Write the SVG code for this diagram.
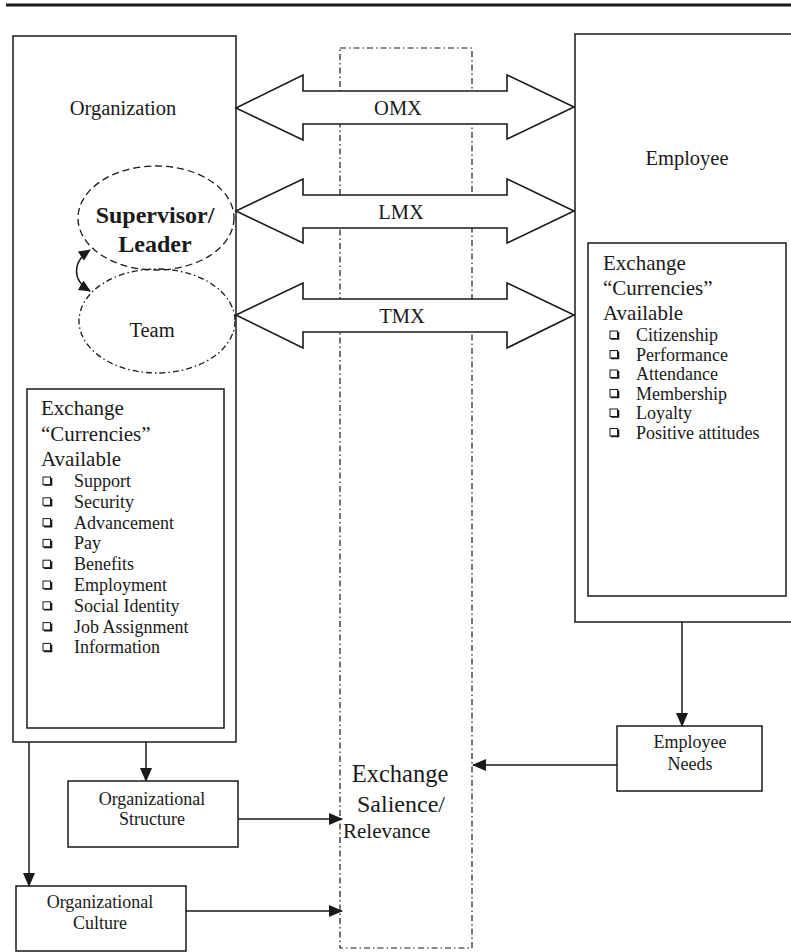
<svg xmlns="http://www.w3.org/2000/svg" width="791" height="952" viewBox="0 0 791 952">
<style>
text{font-family:"Liberation Serif","Times New Roman",serif;fill:#1a1a1a}
.box{fill:none;stroke:#1a1a1a;stroke-width:1.5}
.conn{fill:none;stroke:#1a1a1a;stroke-width:1.5}
.dbl{fill:#fff;stroke:#1a1a1a;stroke-width:1.6;stroke-linejoin:miter}
.h{font-size:21px}
.it{font-size:18px}
.sm{font-size:18px}
.sal{font-family:"Liberation Serif","Times New Roman",serif}
</style>
<defs>
<marker id="ah" viewBox="0 0 14 14" refX="13" refY="7" markerWidth="14" markerHeight="14" markerUnits="userSpaceOnUse" orient="auto"><path d="M0,1 L14,7 L0,13 z" fill="#1a1a1a"/></marker>
<marker id="ahs" viewBox="0 0 12 12" refX="11" refY="6" markerWidth="12" markerHeight="12" markerUnits="userSpaceOnUse" orient="auto-start-reverse"><path d="M0,0.5 L12,6 L0,11.5 z" fill="#1a1a1a"/></marker>
<g id="cb"><rect x="0" y="-10" width="7.5" height="7.5" fill="#fff" stroke="#1a1a1a" stroke-width="1"/><path d="M1,-2 H8.5 V-9" fill="none" stroke="#1a1a1a" stroke-width="1.6"/></g>
</defs>
<line x1="6" y1="5" x2="791" y2="5" stroke="#1a1a1a" stroke-width="3"/>

<g id="exchange-salience">
<rect x="340" y="48" width="132" height="900" fill="none" stroke="#1a1a1a" stroke-width="1.2" stroke-dasharray="6 3 1.5 3"/>
<text class="sal" x="400" y="782" text-anchor="middle" font-family="Liberation Serif, Times New Roman, serif" font-size="24.5">Exchange</text>
<text class="sal" x="401" y="812" text-anchor="middle" font-family="Liberation Serif, Times New Roman, serif" font-size="24">Salience/</text>
<text class="sal" x="343" y="838" font-family="Liberation Serif, Times New Roman, serif" font-size="21">Relevance</text>
</g>

<g id="organization">
<rect class="box" x="13" y="36" width="223" height="706"/>
<text x="123" y="115" text-anchor="middle" font-size="20.5">Organization</text>
</g>

<g id="supervisor">
<ellipse cx="156" cy="218" rx="78" ry="52" fill="none" stroke="#1a1a1a" stroke-width="1.3" stroke-dasharray="7 4"/>
<text x="155" y="223" text-anchor="middle" font-size="24" font-weight="bold">Supervisor/</text>
<text x="155" y="252" text-anchor="middle" font-size="24" font-weight="bold">Leader</text>
</g>

<g id="team">
<ellipse cx="157" cy="321" rx="78" ry="52" fill="none" stroke="#1a1a1a" stroke-width="1.3" stroke-dasharray="6 3 1.5 3"/>
<text x="152" y="337" text-anchor="middle" font-size="20.5">Team</text>
</g>

<g id="org-currencies">
<rect class="box" x="27" y="389" width="197" height="339"/>
<text class="h" x="41" y="415">Exchange</text>
<text class="h" x="41" y="441">“Currencies”</text>
<text class="h" x="41" y="466">Available</text>
<use href="#cb" x="43" y="487"/><text class="it" x="74" y="487">Support</text>
<use href="#cb" x="43" y="507.8"/><text class="it" x="74" y="507.8">Security</text>
<use href="#cb" x="43" y="528.6"/><text class="it" x="74" y="528.6">Advancement</text>
<use href="#cb" x="43" y="549.4"/><text class="it" x="74" y="549.4">Pay</text>
<use href="#cb" x="43" y="570.2"/><text class="it" x="74" y="570.2">Benefits</text>
<use href="#cb" x="43" y="591"/><text class="it" x="74" y="591">Employment</text>
<use href="#cb" x="43" y="611.8"/><text class="it" x="74" y="611.8">Social Identity</text>
<use href="#cb" x="43" y="632.6"/><text class="it" x="74" y="632.6">Job Assignment</text>
<use href="#cb" x="43" y="653.4"/><text class="it" x="74" y="653.4">Information</text>
</g>

<g id="employee">
<rect class="box" x="575" y="34" width="230" height="588"/>
<text x="687" y="165" text-anchor="middle" font-size="20.5">Employee</text>
</g>

<g id="emp-currencies">
<rect class="box" x="588" y="243" width="198" height="353"/>
<text class="h" x="603" y="270">Exchange</text>
<text class="h" x="603" y="295">“Currencies”</text>
<text class="h" x="603" y="320">Available</text>
<use href="#cb" x="610" y="341"/><text class="it" x="636" y="341">Citizenship</text>
<use href="#cb" x="610" y="360.5"/><text class="it" x="636" y="360.5">Performance</text>
<use href="#cb" x="610" y="380"/><text class="it" x="636" y="380">Attendance</text>
<use href="#cb" x="610" y="399.5"/><text class="it" x="636" y="399.5">Membership</text>
<use href="#cb" x="610" y="419"/><text class="it" x="636" y="419">Loyalty</text>
<use href="#cb" x="610" y="438.5"/><text class="it" x="636" y="438.5">Positive attitudes</text>
</g>

<g id="org-structure">
<rect class="box" x="68" y="781" width="170" height="66"/>
<text class="sm" x="152" y="805" text-anchor="middle">Organizational</text>
<text class="sm" x="152" y="825" text-anchor="middle">Structure</text>
</g>

<g id="org-culture">
<rect class="box" x="16" y="886" width="170" height="65"/>
<text class="sm" x="100" y="908" text-anchor="middle">Organizational</text>
<text class="sm" x="100" y="929" text-anchor="middle">Culture</text>
</g>

<g id="employee-needs">
<rect class="box" x="617" y="726" width="145" height="65"/>
<text class="sm" x="690" y="748" text-anchor="middle">Employee</text>
<text class="sm" x="690" y="770" text-anchor="middle">Needs</text>
</g>

<g id="connectors">
<polygon class="dbl" points="236,108 303,75 303,91 507,91 507,75 574,107 507,139 507,124 303,124 303,140"/>
<text x="398" y="115" text-anchor="middle" font-size="20.5">OMX</text>
<polygon class="dbl" points="236,211 303,179 303,195 507,195 507,179 574,211 507,243 507,228 303,228 303,243"/>
<text x="401" y="219" text-anchor="middle" font-size="20.5">LMX</text>
<polygon class="dbl" points="236,315 303,283 303,299 507,299 507,283 574,315 507,348 507,332 303,332 303,348"/>
<text x="402" y="323" text-anchor="middle" font-size="20.5">TMX</text>
<path class="conn" d="M90,250 C72,262 72,280 90,291" marker-start="url(#ahs)" marker-end="url(#ahs)"/>
<line class="conn" x1="146" y1="742" x2="146" y2="781" marker-end="url(#ah)"/>
<line class="conn" x1="29" y1="742" x2="29" y2="886" marker-end="url(#ah)"/>
<line class="conn" x1="238" y1="819" x2="342" y2="819" marker-end="url(#ah)"/>
<line class="conn" x1="186" y1="911" x2="342" y2="911" marker-end="url(#ah)"/>
<line class="conn" x1="682" y1="622" x2="682" y2="726" marker-end="url(#ah)"/>
<line class="conn" x1="617" y1="765" x2="473" y2="765" marker-end="url(#ah)"/>
</g>
</svg>
